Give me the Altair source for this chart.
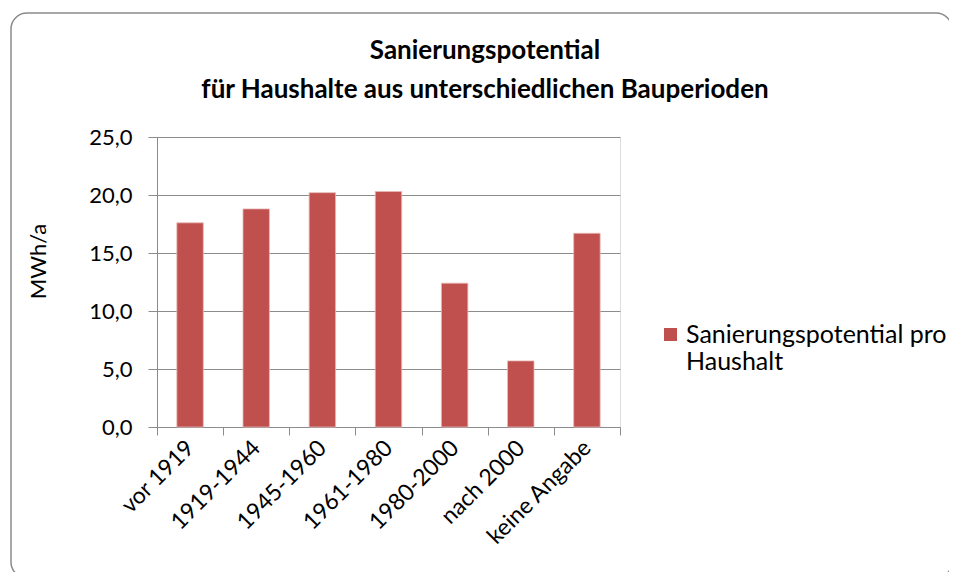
import altair as alt
import pandas as pd

categories = ["vor 1919", "1919-1944", "1945-1960", "1961-1980", "1980-2000", "nach 2000", "keine Angabe"]
values = [17.6, 18.8, 20.2, 20.3, 12.4, 5.7, 16.7]
series_name = "Sanierungspotential pro Haushalt"
title_lines = ["Sanierungspotential", "für Haushalte aus unterschiedlichen Bauperioden"]
y_ticks = [0, 5, 10, 15, 20, 25]

df = pd.DataFrame({"Bauperiode": categories, "Wert": values, "Serie": [series_name] * len(categories)})
title_df = pd.DataFrame({"t": [0]})

FONT = "Lato"
GRAY = "#8c8c8c"

bars = alt.Chart(df).mark_bar(width=alt.RelativeBandSize(0.4), color="#C0504D",
                               stroke="#e8b7b6", strokeWidth=0.8).encode(
    x=alt.X("Bauperiode:N", sort=categories,
            scale=alt.Scale(paddingInner=0, paddingOuter=0),
            axis=alt.Axis(title=None, labelAngle=-45, labelAlign="right", labelBaseline="middle",
                          labelPadding=9, tickBand="extent", tickSize=8, tickColor=GRAY,
                          domainColor=GRAY, labelFontSize=23, labelColor="#000000",
                          labelFont=FONT, grid=False)),
    y=alt.Y("Wert:Q", scale=alt.Scale(domain=[0, 25], nice=False),
            axis=alt.Axis(title="MWh/a", values=y_ticks, format=".1f", tickSize=9,
                          tickColor=GRAY, domainColor=GRAY, gridColor=GRAY, gridWidth=1,
                          labelPadding=16, labelFontSize=22, labelColor="#000000", labelFont=FONT,
                          titleFontSize=22, titleFont=FONT, titleFontWeight="normal",
                          titleColor="#000000", titleX=-107, titleY=124, titleAngle=-90)),
    color=alt.Color("Serie:N", scale=alt.Scale(range=["#C0504D"]),
                    legend=alt.Legend(title=None, orient="none", legendX=501, legendY=185,
                                      symbolType="square", symbolSize=170, symbolStrokeWidth=0,
                                      labelFontSize=25, labelFont=FONT, labelColor="#000000",
                                      labelLimit=400, labelOffset=3,
                                      labelExpr="[substring(datum.label, 0, 23), substring(datum.label, 24)]")),
)

border = alt.Chart(title_df).mark_rect(filled=False, stroke="#8a8a8a", strokeWidth=1.5, cornerRadius=16).encode(
    x=alt.value(-146), x2=alt.value(795), y=alt.value(-124), y2=alt.value(441)
)

title = alt.Chart(title_df).mark_text(text=title_lines, font=FONT, fontSize=26, fontWeight="bold",
                                      color="#000000", align="center", baseline="alphabetic",
                                      lineHeight=39).encode(
    x=alt.value(328), y=alt.value(-78)
)

chart = alt.layer(border, title, bars).properties(
    width=463, height=290,
    autosize=alt.AutoSizeParams(type="none"),
    padding={"left": 149, "top": 129, "right": 329, "bottom": 145},
).configure_view(stroke=None).configure(locale={"number": {"decimal": ",", "thousands": ".", "grouping": [3], "currency": ["", " €"]}})

chart.save("out.html", embed_options={"renderer": "svg", "actions": False})
